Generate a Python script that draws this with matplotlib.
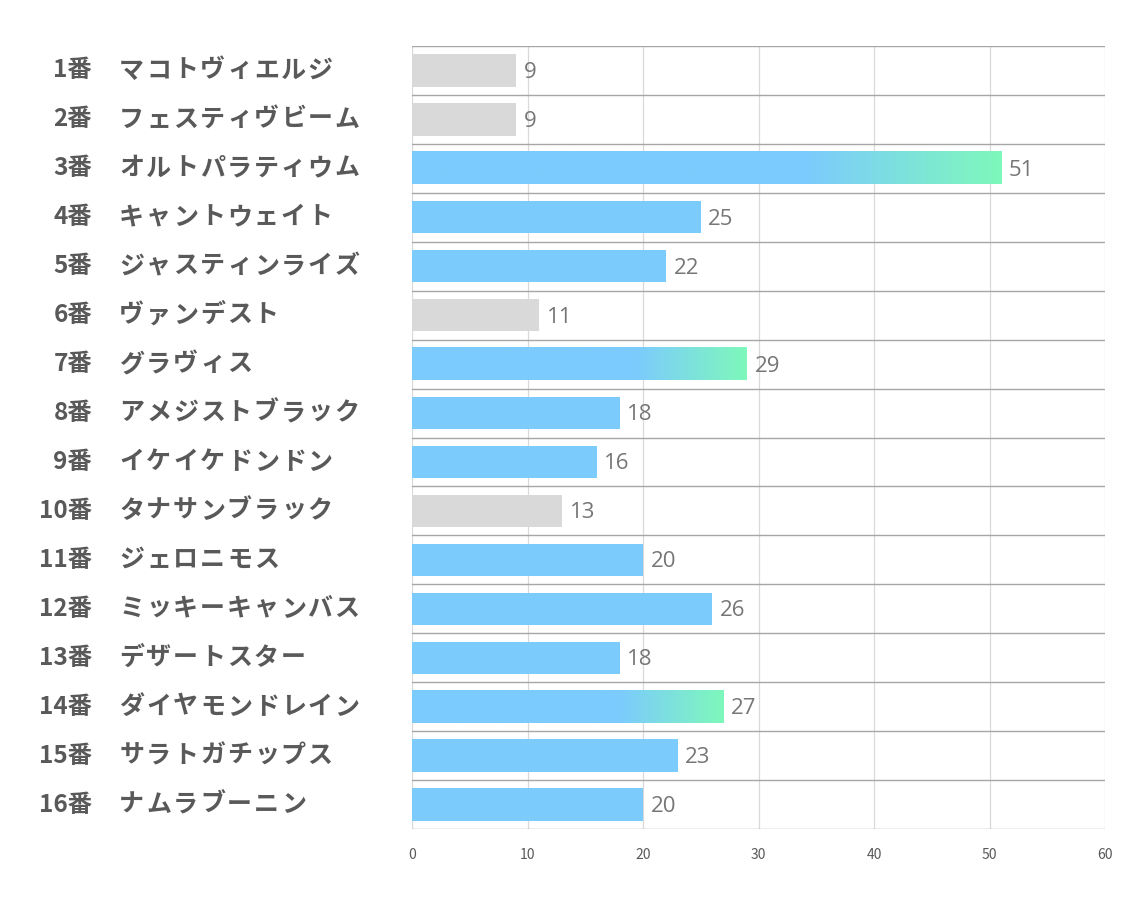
import numpy as np
import matplotlib
matplotlib.use("Agg")
import matplotlib.pyplot as plt
from matplotlib.colors import LinearSegmentedColormap

plt.rcParams['font.family'] = ['Noto Sans CJK JP', 'DejaVu Sans']

nums = ["1番", "2番", "3番", "4番", "5番", "6番", "7番", "8番",
        "9番", "10番", "11番", "12番", "13番", "14番", "15番", "16番"]
names = ["マコトヴィエルジ", "フェスティヴビーム", "オルトパラティウム", "キャントウェイト",
         "ジャスティンライズ", "ヴァンデスト", "グラヴィス", "アメジストブラック",
         "イケイケドンドン", "タナサンブラック", "ジェロニモス", "ミッキーキャンバス",
         "デザートスター", "ダイヤモンドレイン", "サラトガチップス", "ナムラブーニン"]
values = [9, 9, 51, 25, 22, 11, 29, 18, 16, 13, 20, 26, 18, 27, 23, 20]
# 0 = gray, 1 = blue, 2 = blue->green gradient
kind = [0, 0, 2, 1, 1, 0, 2, 1, 1, 0, 1, 1, 1, 2, 1, 1]

blue = "#7ccbfd"
green = "#7ef8bb"
gray = "#d9d9d9"
txt = "#595959"

fig = plt.figure(figsize=(11.34, 9.07), dpi=100)
ax = fig.add_axes([412/1134, 1-829/907, (1105-412)/1134, (829-46)/907])

n = len(values)
h = 0.66
cmap = LinearSegmentedColormap.from_list("bg", [(0, blue), (0.67, blue), (1, green)])
grad = np.linspace(0, 1, 256).reshape(1, -1)

for i, (v, k) in enumerate(zip(values, kind)):
    if k == 2:
        ax.imshow(grad, cmap=cmap, aspect='auto', extent=(0, v, i + h/2, i - h/2),
                  zorder=3, interpolation='bilinear')
    else:
        ax.barh(i, v, height=h, color=gray if k == 0 else blue, zorder=3)
    ax.text(v + 0.65, i + 0.04, str(v), va='center', ha='left', fontsize=16,
            color="#767676", family=['Open Sans', 'DejaVu Sans'], zorder=4)

ax.set_xlim(0, 60)
ax.set_ylim(n - 0.5, -0.5)
ax.set_xticks(range(0, 61, 10))
ax.set_yticks([])
for x in range(10, 61, 10):
    ax.axvline(x, color="#d9d9d9", lw=0.9, zorder=1)
for j in range(n + 1):
    ax.axhline(j - 0.5, color="#a6a6a6", lw=1.0, zorder=2)
for s in ax.spines.values():
    s.set_visible(False)
ax.axvline(0, color="#d9d9d9", lw=0.9, zorder=1)
ax.tick_params(axis='x', length=0, pad=14, labelsize=10, labelcolor=txt)

# label columns, in data units (about 11.55 px per unit)
num_right = -27.7
name_left = -25.35
step = 2.33
for i in range(n):
    ax.text(num_right, i, nums[i], ha='right', va='center', fontsize=17.5,
            fontweight='bold', color=txt, clip_on=False)
    for c, ch in enumerate(names[i]):
        ax.text(name_left + c * step, i, ch, ha='left', va='center', fontsize=18,
                fontweight='bold', color=txt, clip_on=False)

fig.savefig("out.png", dpi=100)
